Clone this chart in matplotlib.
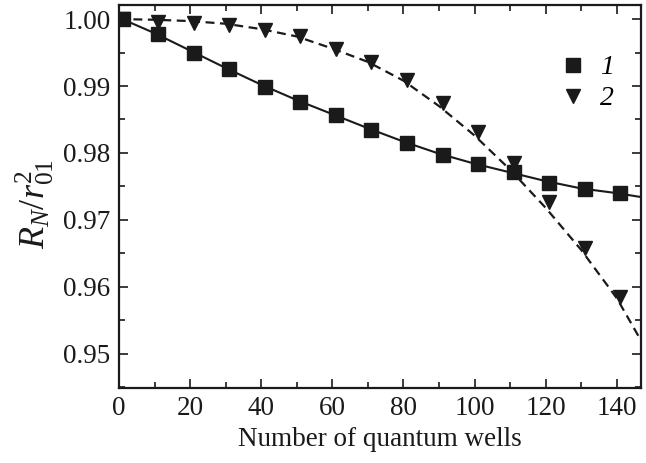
"""
Reflectance ratio R_N / r01^2 vs number of quantum wells.
Two data sets (markers) with their fit curves (solid / dashed).
"""

import matplotlib
matplotlib.use('Agg')
import matplotlib.pyplot as plt
from matplotlib.ticker import MultipleLocator, FormatStrFormatter

# measured points
wells = [1, 11, 21, 31, 41, 51, 61, 71, 81, 91, 101, 111, 121, 131, 141]
r_set1 = [1.0000, 0.9977, 0.9950, 0.9925, 0.9899, 0.9876, 0.9857, 0.9834,
          0.9815, 0.9797, 0.9783, 0.9771, 0.9755, 0.9746, 0.9740]
r_set2 = [1.0000, 0.9996, 0.99945, 0.9991, 0.9984, 0.9975, 0.9956, 0.9936,
          0.9909, 0.9875, 0.9832, 0.9785, 0.9727, 0.9658, 0.9585]

# fit curves
fit_x = [0, 10, 20, 30, 40, 50, 60, 70, 80, 90, 100, 110, 120, 130, 140, 147]
fit_set1 = [1.0002, 0.9979, 0.9953, 0.9927, 0.9902, 0.9879, 0.9858, 0.9837,
            0.9817, 0.9799, 0.9784, 0.9771, 0.9758, 0.9747, 0.9740, 0.9734]
fit_set2 = [1.0000, 0.9999, 0.9997, 0.9993, 0.9985, 0.9974, 0.9956, 0.9936,
            0.9908, 0.9870, 0.9826, 0.9775, 0.9718, 0.9655, 0.9583, 0.9518]

labels = ['1', '2']

plt.rcParams['font.family'] = 'Liberation Serif'
plt.rcParams['mathtext.fontset'] = 'custom'
plt.rcParams['mathtext.rm'] = 'Liberation Serif'
plt.rcParams['mathtext.it'] = 'Liberation Serif:italic'

ink = '#1a1a1a'
fig = plt.figure(figsize=(6.46, 4.63), dpi=100)
ax = fig.add_axes([0.1842, 0.162, 0.8081, 0.8272])

ax.plot(fit_x, fit_set1, color=ink, linewidth=1.5)
ax.plot(fit_x, fit_set2, color=ink, linewidth=1.6, dashes=(4, 2.5))
ax.plot(wells, r_set1, linestyle='none', marker='s', markersize=10,
        color=ink, label=labels[0])
ax.plot(wells, r_set2, linestyle='none', marker='v', markersize=10,
        color=ink, label=labels[1])

ax.set_xlim(0, 146.8)
ax.set_ylim(0.9449, 1.0021)
ax.xaxis.set_major_locator(MultipleLocator(20))
ax.xaxis.set_minor_locator(MultipleLocator(10))
ax.yaxis.set_major_locator(MultipleLocator(0.01))
ax.yaxis.set_minor_locator(MultipleLocator(0.005))
ax.yaxis.set_major_formatter(FormatStrFormatter('%.2f'))

ax.tick_params(which='both', direction='in', top=True, right=True,
               width=1.2, labelsize=19.5, color=ink, labelcolor=ink)
ax.tick_params(which='major', length=6.5, pad=6)
ax.tick_params(which='minor', length=4.5)
for s in ax.spines.values():
    s.set_linewidth(1.6)
    s.set_color(ink)

ax.set_xlabel('Number of quantum wells', fontsize=19.5, color=ink,
              labelpad=4)
ax.set_ylabel(r'$R_N/r_{01}^2$', fontsize=26, color=ink)
ax.yaxis.set_label_coords(-0.12, 0.48)

leg = ax.legend(loc='upper right', bbox_to_anchor=(0.995, 0.935),
                frameon=False, handlelength=0.8, handletextpad=0.55,
                labelspacing=0.2, prop={'style': 'italic', 'size': 20})

plt.savefig('out.png', dpi=100)
plt.close()
